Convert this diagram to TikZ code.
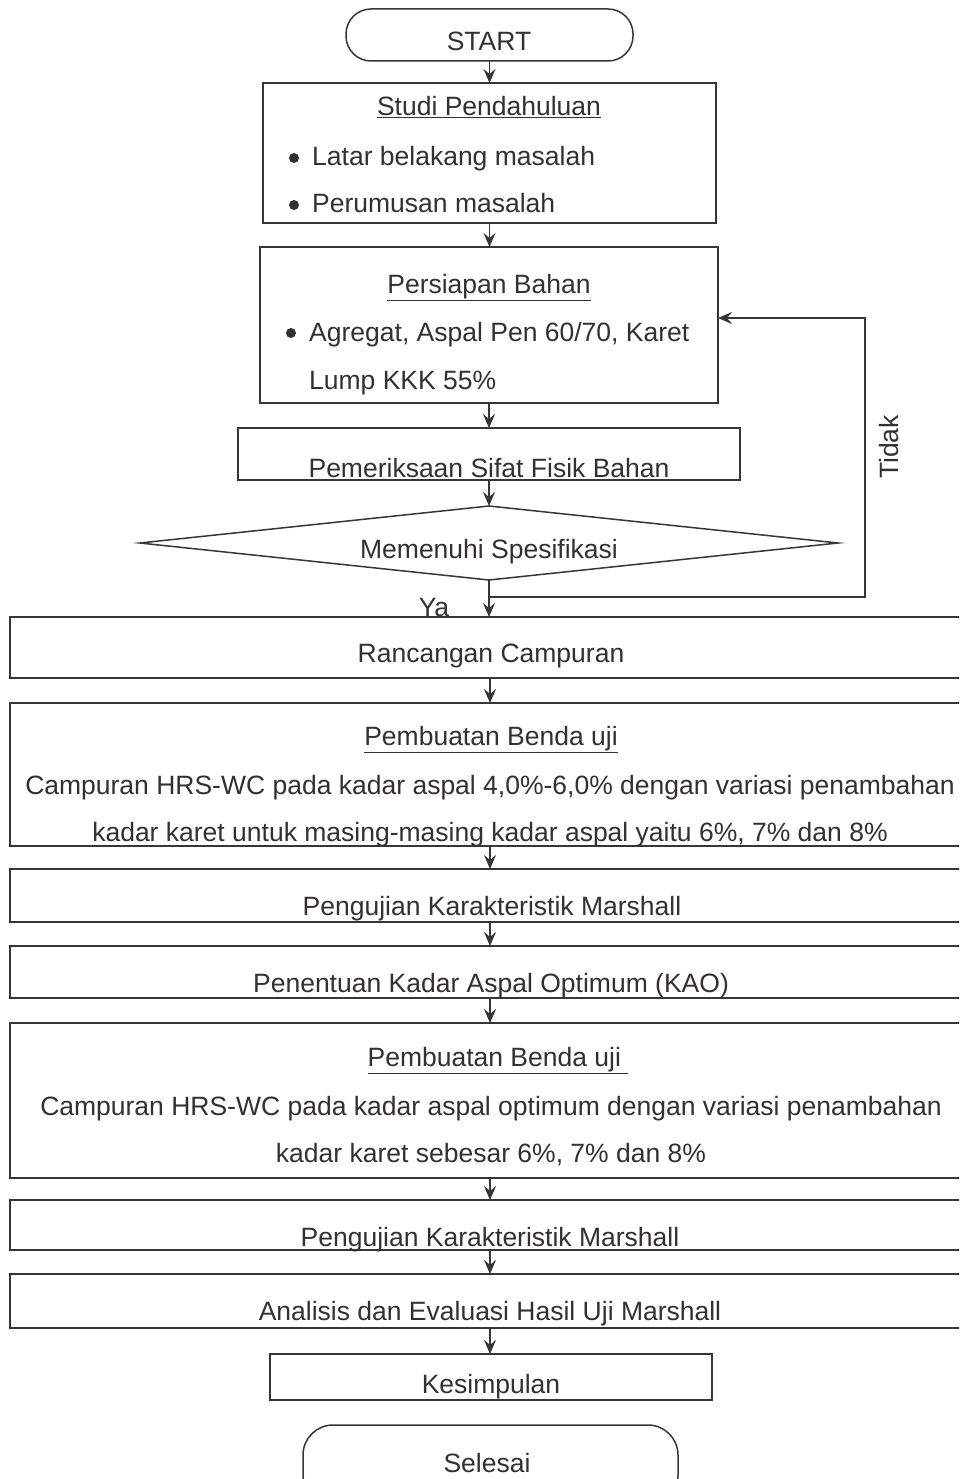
\documentclass[tikz,border=0pt]{standalone}
\usepackage{fontspec}
\setmainfont{Liberation Sans}
\usetikzlibrary{shapes.geometric,arrows.meta}
\definecolor{ink}{HTML}{352F32}
\definecolor{linec}{HTML}{363636}
\tikzset{
 box/.style={draw=linec, line width=1.5pt, rectangle, inner sep=0pt, outer sep=0pt},
 term/.style={box, rounded corners=25pt},
 txt/.style={text=ink, font=\fontsize{26.5}{30}\selectfont, inner sep=0pt, anchor=base},
 dot/.style={circle, fill=ink, inner sep=0pt, minimum size=10pt},
 arr/.style={draw=linec, line width=1.4pt, -{Stealth[length=14pt,width=12pt,inset=5pt]}},
}
\begin{document}
\begin{tikzpicture}[x=1pt,y=-1pt]
\useasboundingbox (0,0) rectangle (959,1479);
\clip (0,0) rectangle (959,1479);
\fill[white] (0,0) rectangle (959,1479);
% boxes
\node[term, minimum width=287pt, minimum height=52pt] (start) at (489.5,35) {};
\node[box, minimum width=453pt, minimum height=140pt] (studi) at (489.5,153) {};
\node[box, minimum width=458pt, minimum height=156pt] (pers) at (489,325) {};
\node[box, minimum width=502pt, minimum height=52pt] (perik) at (489,454) {};
\node[draw=linec, line width=1.5pt, diamond, inner sep=0pt, outer sep=0pt, minimum width=698pt, minimum height=74pt] (dia) at (489,543) {};
\node[box, minimum width=965pt, minimum height=61pt] (ranc) at (492.5,647.5) {};
\node[box, minimum width=965pt, minimum height=143pt] (pemb1) at (492.5,774.5) {};
\node[box, minimum width=965pt, minimum height=53pt] (peng1) at (492.5,895.5) {};
\node[box, minimum width=965pt, minimum height=52pt] (kao) at (492.5,972) {};
\node[box, minimum width=965pt, minimum height=155pt] (pemb2) at (492.5,1100.5) {};
\node[box, minimum width=965pt, minimum height=50pt] (peng2) at (492.5,1225) {};
\node[box, minimum width=965pt, minimum height=54pt] (anal) at (492.5,1301) {};
\node[box, minimum width=442pt, minimum height=46pt] (kes) at (491,1377) {};
\node[term, rounded corners=30pt, minimum width=375pt, minimum height=80pt] (sel) at (490.5,1465) {};
% texts
\node[txt] (tstart) at (489,51) {START};
\node[txt] (tstudi) at (489,116) {\underline{Studi Pendahuluan}};
\node[dot] (b1) at (294,158) {};
\node[txt, anchor=base west] (tlatar) at (312,166) {Latar belakang masalah};
\node[dot] (b2) at (294,205) {};
\node[txt, anchor=base west] (tperu) at (312,213) {Perumusan masalah};
\node[txt] (tpers) at (489,293) {\underline{Persiapan Bahan}};
\node[dot] (b3) at (291,333) {};
\node[txt, anchor=base west] (tagr) at (309,341) {Agregat, Aspal Pen 60/70, Karet};
\node[txt, anchor=base west] (tlump) at (309,389) {Lump KKK 55\%};
\node[txt] (tperik) at (489,477) {Pemeriksaan Sifat Fisik Bahan};
\node[txt] (tdia) at (489,558) {Memenuhi Spesifikasi};
\node[txt] (tya) at (434,616) {Ya};
\node[txt, rotate=90, anchor=center] (ttidak) at (889,447) {Tidak};
\node[txt] (tranc) at (491,662) {Rancangan Campuran};
\node[txt] (tpemb1) at (491,745) {\underline{Pembuatan Benda uji}};
\node[txt] (tc1) at (490,794) {Campuran HRS-WC pada kadar aspal 4,0\%-6,0\% dengan variasi penambahan};
\node[txt] (tk1) at (490,841) {kadar karet untuk masing-masing kadar aspal yaitu 6\%, 7\% dan 8\%};
\node[txt] (tpeng1) at (492,915) {Pengujian Karakteristik Marshall};
\node[txt] (tkao) at (491,992) {Penentuan Kadar Aspal Optimum (KAO)};
\node[txt] (tpemb2) at (498,1066) {\underline{Pembuatan Benda uji\ }};
\node[txt] (tc2) at (491,1115) {Campuran HRS-WC pada kadar aspal optimum dengan variasi penambahan};
\node[txt] (tk2) at (491,1162) {kadar karet sebesar 6\%, 7\% dan 8\%};
\node[txt] (tpeng2) at (490,1246) {Pengujian Karakteristik Marshall};
\node[txt] (tanal) at (490,1320) {Analisis dan Evaluasi Hasil Uji Marshall};
\node[txt] (tkes) at (491,1393) {Kesimpulan};
\node[txt] (tsel) at (487,1472) {Selesai};
% connectors
\coordinate (ax) at (490,0);
\draw[arr] (start.south) -- (studi.north -| start.south);
\draw[arr] (studi.south) -- (pers.north -| studi.south);
\draw[arr] (pers.south) -- (perik.north -| pers.south);
\draw[arr] (perik.south) -- (dia.north);
\draw[arr] (dia.south) -- (ranc.north -| dia.south);
\draw[arr] (ranc.south -| ax) -- (pemb1.north -| ax);
\draw[arr] (pemb1.south -| ax) -- (peng1.north -| ax);
\draw[arr] (peng1.south -| ax) -- (kao.north -| ax);
\draw[arr] (kao.south -| ax) -- (pemb2.north -| ax);
\draw[arr] (pemb2.south -| ax) -- (peng2.north -| ax);
\draw[arr] (peng2.south -| ax) -- (anal.north -| ax);
\draw[arr] (anal.south -| ax) -- (kes.north -| ax);
% Tidak loop
\coordinate (j) at (489,597);
\coordinate (jr) at (865,597);
\coordinate (jt) at (865,318);
\draw[arr] (j) -- (jr) -- (jt) -- (pers.east |- jt);
\end{tikzpicture}
\end{document}
